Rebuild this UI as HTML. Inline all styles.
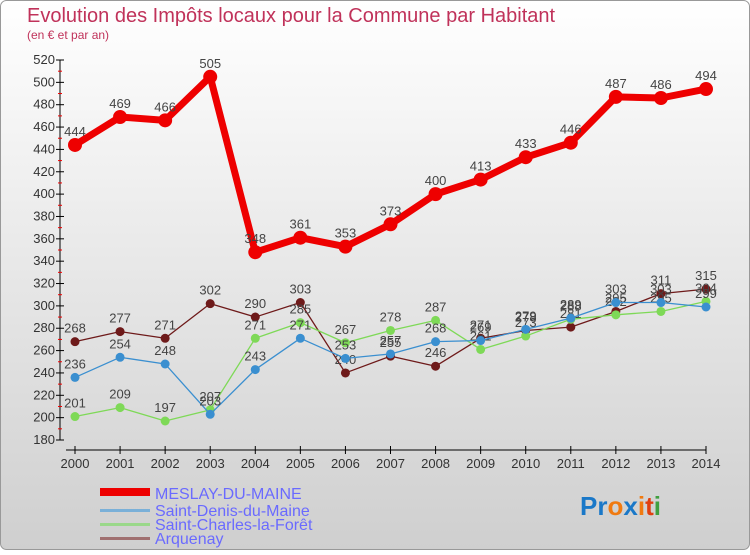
<!DOCTYPE html>
<html><head><meta charset="utf-8"><style>
body{margin:0;width:750px;height:550px;overflow:hidden;font-family:"Liberation Sans",sans-serif}
svg text{font-family:"Liberation Sans",sans-serif}
</style></head><body>
<svg id="chart" width="750" height="550" xmlns="http://www.w3.org/2000/svg">
<defs><linearGradient id="bg" x1="0" y1="0" x2="0" y2="1"><stop offset="0" stop-color="#ffffff"/><stop offset="1" stop-color="#cfcfcf"/></linearGradient></defs>
<rect x="0.5" y="0.5" width="749" height="549" rx="6" fill="url(#bg)" stroke="#999"/>
<text x="27" y="22" font-size="20" fill="#c0325a">Evolution des Impôts locaux pour la Commune par Habitant</text>
<text x="27" y="39" font-size="12" fill="#c0325a">(en € et par an)</text>
<g id="axes"></g><g id="series"></g>
<g font-size="16" fill="#6a6aff">
<rect x="100" y="488" width="50" height="8" fill="#e00"/>
<text x="155" y="499">MESLAY-DU-MAINE</text>
<rect x="100" y="509" width="50" height="3" fill="#7ab0d8"/>
<text x="155" y="516">Saint-Denis-du-Maine</text>
<rect x="100" y="523" width="50" height="3" fill="#9ad88a"/>
<text x="155" y="530">Saint-Charles-la-Forêt</text>
<rect x="100" y="537" width="50" height="3" fill="#a07070"/>
<text x="155" y="544">Arquenay</text>
</g>
<text x="580" y="515" font-size="26" font-weight="bold"><tspan fill="#1a78c8">Pr</tspan><tspan fill="#f07a10">o</tspan><tspan fill="#1a78c8">x</tspan><tspan fill="#f07a10">i</tspan><tspan fill="#e04010">t</tspan><tspan fill="#40a040">i</tspan></text>
</svg>
<script>
const years=[2000,2001,2002,2003,2004,2005,2006,2007,2008,2009,2010,2011,2012,2013,2014];
const meslay=[444,469,466,505,348,361,353,373,400,413,433,446,487,486,494];
const saintDenis=[236,254,248,203,243,271,253,257,268,269,279,289,303,303,299];
const saintCharles=[201,209,197,207,271,285,267,278,287,261,273,288,292,295,304];
const arquenay=[268,277,271,302,290,303,240,255,246,271,278,281,295,311,315];
const yTicks=[180,200,220,240,260,280,300,320,340,360,380,400,420,440,460,480,500,520];
const NS="http://www.w3.org/2000/svg";
const X=i=>75+i*(706-75)/(years.length-1);
const Y=v=>440-(v-180)*380/340;
function mk(t,a,p){const e=document.createElementNS(NS,t);for(const k in a)e.setAttribute(k,a[k]);p.appendChild(e);return e;}
const ax=document.getElementById('axes'),se=document.getElementById('series');
let l=mk('line',{x1:60,y1:60,x2:60,y2:440,stroke:'#000'},ax);


l=mk('line',{x1:66,y1:450,x2:706,y2:450,stroke:'#000'},ax);


yTicks.forEach(v=>{const y=Y(v);
 mk('line',{x1:56,y1:y,x2:64,y2:y,stroke:'#000'},ax);
 if(v<520)mk('line',{x1:58,y1:y-380/34,x2:62,y2:y-380/34,stroke:'#e00'},ax);
 const t=mk('text',{x:55,y:y+4,'font-size':13,fill:'#333','text-anchor':'end'},ax);t.textContent=v;
 
 });
years.forEach((yr,i)=>{const x=X(i);
 mk('line',{x1:x,y1:446,x2:x,y2:454,stroke:'#000'},ax);
 const t=mk('text',{x:x,y:468,'font-size':13,fill:'#333','text-anchor':'middle'},ax);t.textContent=yr;
 
 });
function draw(vals,color,w,r,name){
 const g=mk('g',{},se);
 
 
 mk('polyline',{points:vals.map((v,i)=>X(i)+','+Y(v)).join(' '),fill:'none',stroke:color,'stroke-width':w,'stroke-linejoin':'round'},g);
 vals.forEach((v,i)=>{const c=mk('circle',{cx:X(i),cy:Y(v),r:r,fill:color},g);
  
  
  const t=mk('text',{x:X(i),y:Y(v)-9,'font-size':13,fill:'#444','text-anchor':'middle'},g);t.textContent=v;
  
  });
}
draw(arquenay,'#6e1a1a',1.3,4.5,'series-arquenay');
draw(saintCharles,'#7ed957',1.3,4.5,'series-saint-charles');
draw(saintDenis,'#3a8fd0',1.3,4.5,'series-saint-denis');
draw(meslay,'#ee0000',7,7,'series-meslay');
</script>
</body></html>
